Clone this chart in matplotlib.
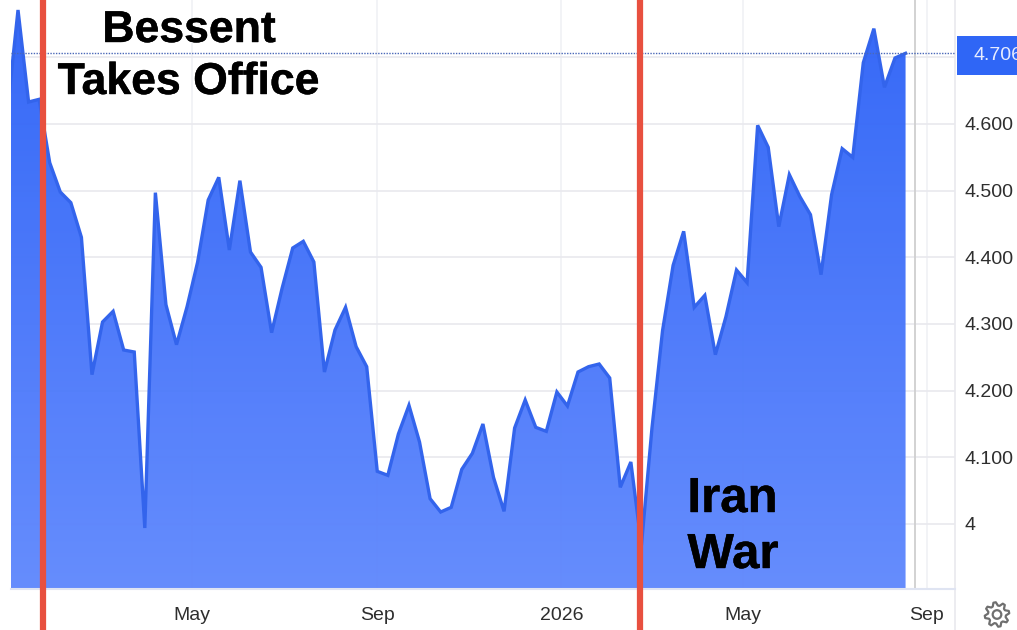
import numpy as np
import pandas as pd
import matplotlib
matplotlib.use("Agg")
import matplotlib.pyplot as plt
import matplotlib.dates as mdates
import matplotlib.patheffects as pe
from matplotlib.colors import LinearSegmentedColormap
from matplotlib.patches import Rectangle, Polygon, Circle
from matplotlib.transforms import IdentityTransform

plt.rcParams['font.family'] = ['Liberation Sans', 'DejaVu Sans']

W, H = 1017, 630

yields = [
    4.620, 4.771, 4.633, 4.637, 4.542, 4.498, 4.482, 4.430, 4.224, 4.303,
    4.319, 4.261, 4.258, 3.994, 4.497, 4.329, 4.269, 4.326, 4.393, 4.486,
    4.520, 4.411, 4.515, 4.408, 4.385, 4.287, 4.354, 4.414, 4.424, 4.393,
    4.228, 4.291, 4.325, 4.266, 4.236, 4.079, 4.073, 4.135, 4.178, 4.123,
    4.038, 4.018, 4.025, 4.082, 4.106, 4.150, 4.070, 4.019, 4.144, 4.186,
    4.145, 4.139, 4.198, 4.177, 4.228, 4.236, 4.240, 4.219, 4.055, 4.093,
    3.968, 4.144, 4.290, 4.388, 4.439, 4.325, 4.343, 4.254, 4.311, 4.381,
    4.362, 4.598, 4.565, 4.446, 4.524, 4.491, 4.464, 4.374, 4.494, 4.563,
    4.550, 4.692, 4.743, 4.655, 4.699, 4.706,
]
first_date = "2024-12-30"
last_value = "4.706"
y_ticks = [4.0, 4.1, 4.2, 4.3, 4.4, 4.5, 4.6, 4.7]
y_labels = ["4", "4.100", "4.200", "4.300", "4.400", "4.500", "4.600", ""]
x_ticks = ["2025-05-01", "2025-09-01", "2026-01-01", "2026-05-01", "2026-08-31"]
x_labels = ["May", "Sep", "2026", "May", "Sep"]
events = ["2025-01-22 10:00", "2026-02-22"]
cursor_date = "2026-08-23"

dates = pd.date_range(first_date, periods=len(yields), freq="7D")
xnum = mdates.date2num(dates)

fig = plt.figure(figsize=(W / 100, H / 100), dpi=100, facecolor="white")
ax = fig.add_axes([11 / W, 41 / H, 944 / W, 589 / H])
xmin = mdates.date2num(pd.Timestamp("2025-01-01 08:30"))
xmax = mdates.date2num(pd.Timestamp("2026-09-18 18:00"))
ymin, ymax = 3.9025, 4.786
GRID = "#e9e9ee"

# gradient area
area = ax.fill_between(xnum, yields, ymin, facecolor="none", edgecolor="none", zorder=2)
cmap = LinearSegmentedColormap.from_list("g", ["#6189fd", "#2e63f7"])
grad = np.linspace(0, 1, 256).reshape(-1, 1)
im = ax.imshow(grad, extent=[xmin, xmax, ymin, ymax], origin="lower", aspect="auto",
               cmap=cmap, zorder=2, alpha=0.97)
im.set_clip_path(area.get_paths()[0], transform=ax.transData)
ax.plot(xnum, yields, color="#3364ec", lw=2.4, solid_joinstyle="miter", zorder=3)

ax.set_xlim(xmin, xmax)
ax.set_ylim(ymin, ymax)

# axes and grid
xt = mdates.date2num(pd.to_datetime(x_ticks))
ax.set_xticks(xt, x_labels)
ax.set_yticks(y_ticks, y_labels)
ax.yaxis.tick_right()
ax.grid(True, axis="y", color=GRID, lw=1.2, zorder=1)
ax.grid(True, axis="x", color="#f0f1f5", lw=1.2, zorder=1)
ax.set_axisbelow(True)
ax.tick_params(axis="both", length=0, labelsize=14, labelcolor="#2e2e2e")
ax.tick_params(axis="y", pad=7)
ax.tick_params(axis="x", pad=12.7)
for s in ("top", "left"):
    ax.spines[s].set_visible(False)
ax.spines["bottom"].set_color("#dfe4f2")
ax.spines["bottom"].set_linewidth(1.5)
ax.spines["right"].set_color(GRID)
ax.spines["right"].set_linewidth(1.2)
ax.spines["right"].set_bounds(ymin - 0.062, ymax)
ax.spines["right"].set_zorder(1)

ax.axvline(mdates.date2num(pd.Timestamp(cursor_date)), color="#cfcfcf", lw=1.3, zorder=1.5)
ax.axhline(float(last_value), color="#4a68b8", lw=1, ls=(0, (1, 1)), zorder=4)

for d in events:
    ax.axvline(mdates.date2num(pd.Timestamp(d)), ymin=-0.08, ymax=1, color="#e8503f",
               lw=4.5, clip_on=False, solid_capstyle="butt", zorder=6)

# last value tag
fig.add_artist(Rectangle((957 / W, 1 - 75 / H), 60 / W, 39 / H, transform=fig.transFigure,
                         facecolor="#2f66f6", edgecolor="none"))
fig.text(974 / W, 1 - 55.5 / H, last_value, color="#e6ecff", fontsize=14, va="center", ha="left")

# annotations
stroke = [pe.withStroke(linewidth=0.3, foreground="black")]
bold = dict(color="black", fontweight="bold", va="baseline", ha="center", zorder=10,
            path_effects=stroke)
fig.text(189 / W, 1 - 42 / H, "Bessent", fontsize=32.1, **bold)
fig.text(188.5 / W, 1 - 94 / H, "Takes Office", fontsize=32.1, **bold)
fig.text(732.5 / W, 1 - 512 / H, "Iran", fontsize=35.4, **bold)
fig.text(733 / W, 1 - 568 / H, "War", fontsize=35.4, **bold)

# settings gear icon
cx, cy = 997, H - 614.5
n_pts = 8 * 4
ang = np.arange(n_pts) * 2 * np.pi / n_pts + np.pi / n_pts
rad = np.tile([12.3, 12.3, 9.0, 9.0], 8)
gear = np.column_stack([cx + rad * np.cos(ang), cy + rad * np.sin(ang)])
fig.add_artist(Polygon(gear, closed=True, transform=IdentityTransform(), facecolor="none",
                       edgecolor="#6f6f6f", lw=1.6, joinstyle="round"))
fig.add_artist(Circle((cx, cy), 4.3, transform=IdentityTransform(), facecolor="none",
                      edgecolor="#6f6f6f", lw=1.6))

fig.savefig("out.png", dpi=100, facecolor="white")
